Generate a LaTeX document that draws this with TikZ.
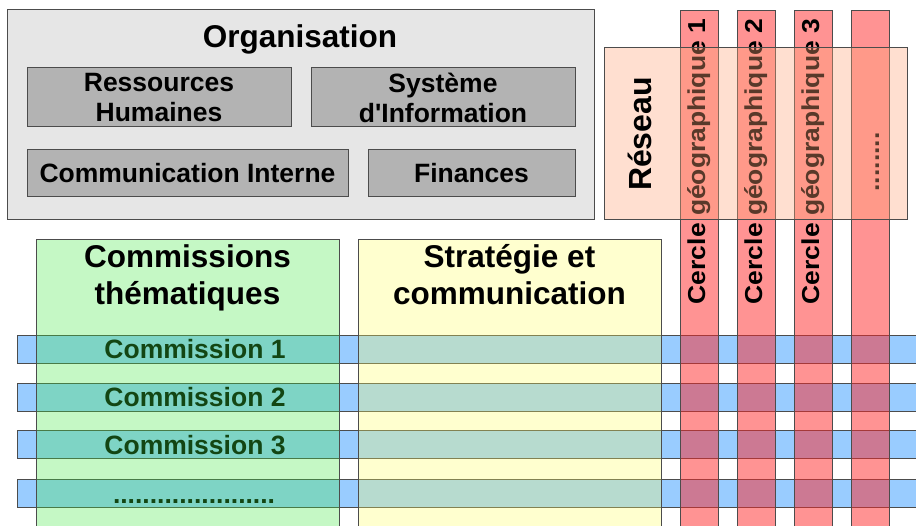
\documentclass[tikz,border=0pt]{standalone}
\usepackage{fontspec}
\setmainfont{Liberation Sans}[Ligatures=TeXOff]
\newfontfamily\cerclefont[FakeStretch=1.08]{Liberation Sans}
\usepackage{xcolor}
\usepackage{tikz}

\definecolor{orgfill}{HTML}{E6E6E6}
\definecolor{subfill}{HTML}{B3B3B3}
\definecolor{bandblue}{HTML}{99CCFF}
\definecolor{themegreen}{RGB}{65,232,65}
\definecolor{stratyellow}{RGB}{255,255,98}
\definecolor{cerclered}{RGB}{255,40,40}
\definecolor{reseaufill}{RGB}{255,166,121}

\begin{document}
\begin{tikzpicture}[x=1pt,y=-1pt,
  edge/.style={draw=black!70, line width=1pt},
  big/.style={font=\fontsize{31.5}{37}\selectfont\bfseries, align=center, inner sep=0pt},
  mid/.style={font=\fontsize{26.5}{30}\selectfont\bfseries, align=center, inner sep=0pt},
  cercletxt/.style={font=\fontsize{24.5}{28}\selectfont\cerclefont\bfseries, rotate=90, anchor=base, inner sep=0pt}]

  \useasboundingbox (0,0) rectangle (916,526);
  \clip (0,0) rectangle (916,526);
  \fill[white] (0,0) rectangle (916,526);

  \draw[edge, fill=orgfill] (7,10) rectangle (594,220);
  \node[big, anchor=base] (org) at (300,48) {Organisation};
  \foreach \a/\b/\c/\d in {27/68/291/127, 311/68/575/127, 27/150/348/197, 368/150/575/197}
    \draw[edge, fill=subfill] (\a,\b) rectangle (\c,\d);
  \node[mid] (rh) at (159,97.5) {Ressources\\Humaines};
  \node[mid] (si) at (443,97.5) {Système\\d'Information};
  \node[mid, anchor=base] (ci) at (187.5,183) {Communication Interne};
  \node[mid, anchor=base] (fin) at (471.5,183) {Finances};

  \foreach \y in {336,384,431,479}
    \draw[edge, fill=bandblue] (17,\y) rectangle (930,\y+28);
  \foreach \n/\y in {1/359,2/407,3/454}
    \node[mid, anchor=base] (com\n) at (195,\y) {Commission \n};
  \node[mid, anchor=base] (com4) at (194,503) {......................};

  \draw[edge, fill=themegreen, fill opacity=0.3] (36,240) rectangle (339,540);
  \draw[edge, fill=stratyellow, fill opacity=0.3] (358,240) rectangle (661,540);
  \node[big] (theme) at (187.5,278) {Commissions\\thématiques};
  \node[big] (strat) at (509.5,275) {Stratégie et\\communication};

  \foreach \x in {680,737,794,851}
    \draw[edge, fill=cerclered, fill opacity=0.5] (\x,11) rectangle (\x+38,540);
  \foreach \n/\x in {1/680,2/737,3/794}
    \node[cercletxt] (cg\n) at (\x+25,161.5) {Cercle géographique \n};
  \node[cercletxt] (cg4) at (879,162) {........};

  \draw[edge, fill=reseaufill, fill opacity=0.35] (604,48) rectangle (907,220);
  \node[big, rotate=90, anchor=base, font=\fontsize{32}{36}\selectfont\bfseries] (reseau) at (651,134) {Réseau};
\end{tikzpicture}
\end{document}
